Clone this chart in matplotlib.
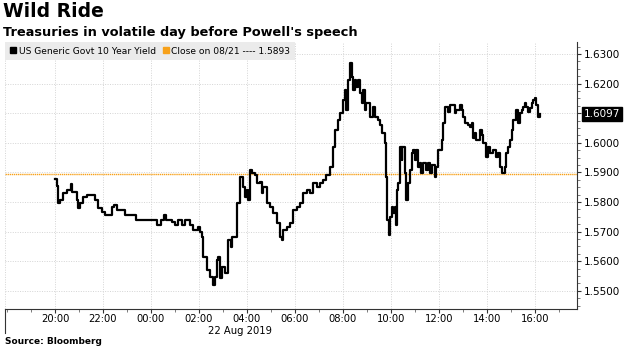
import numpy as np
import pandas as pd
import matplotlib
matplotlib.use("Agg")
from matplotlib import pyplot as plt
import matplotlib.dates as mdates
from matplotlib.lines import Line2D
from matplotlib.ticker import MultipleLocator, FormatStrFormatter
import matplotlib.transforms as mtransforms

# 10y yield (times are New York, 21 -> 22 Aug 2019)
times = ["20:00", "20:05", "20:08", "20:12", "20:21", "20:29", "20:39", "20:43", "20:54", "20:58",
         "21:02", "21:11", "21:19", "21:32", "21:40", "21:47", "21:57", "22:05", "22:22", "22:28",
         "22:34", "22:55", "23:22", "23:45", "00:14", "00:16", "00:24", "00:32", "00:37", "00:52",
         "01:00", "01:08", "01:17", "01:25", "01:37", "01:46", "01:58", "02:02", "02:07", "02:11",
         "02:19", "02:27", "02:34", "02:40", "02:44", "02:48", "02:52", "02:57", "03:05", "03:13",
         "03:19", "03:22", "03:34", "03:42", "03:51", "03:55", "03:59", "04:03", "04:07", "04:12",
         "04:20", "04:24", "04:32", "04:37", "04:41", "04:49", "04:57", "05:06", "05:14", "05:22",
         "05:27", "05:31", "05:39", "05:47", "05:56", "06:04", "06:12", "06:21", "06:29", "06:37",
         "06:46", "06:54", "07:02", "07:11", "07:19", "07:27", "07:36", "07:40", "07:48", "07:52",
         "08:01", "08:05", "08:09", "08:13", "08:17", "08:22", "08:26", "08:30", "08:34", "08:38",
         "08:42", "08:47", "08:51", "08:55", "08:59", "09:07", "09:16", "09:20", "09:28", "09:32",
         "09:37", "09:45", "09:47", "09:51", "09:55", "09:57", "10:02", "10:06", "10:10", "10:12",
         "10:16", "10:18", "10:22", "10:27", "10:29", "10:35", "10:39", "10:43", "10:47", "10:52",
         "10:56", "11:00", "11:04", "11:08", "11:12", "11:16", "11:21", "11:29", "11:33", "11:37",
         "11:42", "11:50", "11:54", "11:58", "12:07", "12:11", "12:15", "12:23", "12:27", "12:36",
         "12:40", "12:44", "12:52", "12:57", "13:01", "13:05", "13:13", "13:17", "13:22", "13:26",
         "13:30", "13:34", "13:42", "13:47", "13:51", "13:59", "14:03", "14:07", "14:16", "14:24",
         "14:28", "14:32", "14:37", "14:45", "14:49", "14:53", "14:57", "15:02", "15:06", "15:12",
         "15:18", "15:22", "15:27", "15:31", "15:35", "15:39", "15:43", "15:47", "15:52", "15:56",
         "16:00", "16:04", "16:08", "16:12"]
yields = [1.5878, 1.5855, 1.5797, 1.5807, 1.5831, 1.5841, 1.5861, 1.5834, 1.5807, 1.5780,
          1.5797, 1.5818, 1.5824, 1.5824, 1.5807, 1.5780, 1.5767, 1.5757, 1.5784, 1.5791,
          1.5774, 1.5757, 1.5740, 1.5740, 1.5740, 1.5723, 1.5740, 1.5757, 1.5740, 1.5733,
          1.5723, 1.5740, 1.5723, 1.5740, 1.5723, 1.5706, 1.5716, 1.5699, 1.5682, 1.5615,
          1.5571, 1.5547, 1.5520, 1.5547, 1.5605, 1.5615, 1.5544, 1.5581, 1.5561, 1.5672,
          1.5649, 1.5682, 1.5797, 1.5885, 1.5851, 1.5818, 1.5841, 1.5807, 1.5909, 1.5899,
          1.5892, 1.5865, 1.5868, 1.5831, 1.5851, 1.5797, 1.5784, 1.5764, 1.5730, 1.5682,
          1.5672, 1.5706, 1.5716, 1.5730, 1.5774, 1.5784, 1.5797, 1.5831, 1.5841, 1.5831,
          1.5865, 1.5851, 1.5865, 1.5875, 1.5892, 1.5919, 1.5986, 1.6044, 1.6078, 1.6101,
          1.6145, 1.6179, 1.6111, 1.6213, 1.6270, 1.6223, 1.6179, 1.6213, 1.6189, 1.6213,
          1.6169, 1.6135, 1.6179, 1.6111, 1.6135, 1.6088, 1.6122, 1.6088, 1.6078, 1.6061,
          1.6034, 1.6000, 1.5885, 1.5740, 1.5689, 1.5750, 1.5784, 1.5764, 1.5784, 1.5723,
          1.5841, 1.5865, 1.5986, 1.5943, 1.5986, 1.5899, 1.5807, 1.5865, 1.5909, 1.5966,
          1.5976, 1.5943, 1.5976, 1.5919, 1.5932, 1.5899, 1.5932, 1.5909, 1.5932, 1.5899,
          1.5926, 1.5885, 1.5919, 1.5976, 1.6010, 1.6068, 1.6122, 1.6105, 1.6128, 1.6128,
          1.6101, 1.6111, 1.6128, 1.6111, 1.6088, 1.6068, 1.6061, 1.6054, 1.6068, 1.6017,
          1.6034, 1.6010, 1.6044, 1.6027, 1.6000, 1.5953, 1.5986, 1.5966, 1.5976, 1.5953,
          1.5966, 1.5919, 1.5899, 1.5919, 1.5966, 1.5986, 1.6010, 1.6044, 1.6078, 1.6111,
          1.6068, 1.6101, 1.6111, 1.6122, 1.6135, 1.6122, 1.6105, 1.6118, 1.6135, 1.6145,
          1.6152, 1.6128, 1.6088, 1.6097]
prev_close = 1.5893
last_value = 1.6097

title = "Wild Ride"
subtitle = "Treasuries in volatile day before Powell's speech"
series_label = "US Generic Govt 10 Year Yield"
close_label = "Close on 08/21 ---- 1.5893"
date_label = "22 Aug 2019"
source = "Source: Bloomberg"

# times from 18:00 on belong to the 21st
stamps = [pd.Timestamp(("2019-08-21 " if int(t[:2]) >= 18 else "2019-08-22 ") + t) for t in times]

fig = plt.figure(figsize=(6.29, 3.51), dpi=100)
ax = fig.add_axes([0.008, 0.12, 0.909, 0.76])

ax.plot(stamps, yields, color="black", lw=1.6, drawstyle="steps-post", zorder=3)
ax.axhline(prev_close, color="#f7a11a", lw=1.0, ls=(0, (1, 0.5)), zorder=2)

ax.set_xlim(pd.Timestamp("2019-08-21 17:55"), pd.Timestamp("2019-08-22 17:45"))
ax.set_ylim(1.5439, 1.634)

ax.xaxis.set_major_locator(mdates.HourLocator(byhour=[20, 22, 0, 2, 4, 6, 8, 10, 12, 14, 16]))
ax.xaxis.set_minor_locator(mdates.HourLocator())
ax.xaxis.set_major_formatter(mdates.DateFormatter("%H:%M"))
ax.yaxis.tick_right()
ax.yaxis.set_major_locator(MultipleLocator(0.01))
ax.yaxis.set_minor_locator(MultipleLocator(0.0025))
ax.yaxis.set_major_formatter(FormatStrFormatter("%.4f"))

ax.tick_params(axis="both", which="major", labelsize=7.5, length=3, width=0.8, color="#333333")
ax.tick_params(axis="both", which="minor", length=2, width=0.6, color="#666666")
ax.tick_params(axis="x", labelsize=7.2, pad=1)
ax.tick_params(axis="y", pad=2)

for s in ["top", "left"]:
    ax.spines[s].set_visible(False)
ax.spines["bottom"].set_color("#333333")
ax.spines["right"].set_color("#333333")
ax.grid(True, which="major", color="#d4d4d4", lw=0.7, ls=(0, (1, 1.5)))
ax.axvline(ax.get_xlim()[0], color="#d4d4d4", lw=0.7, ls=(0, (1, 1.5)))

# separator line under the left edge of the time axis
ax.plot([0, 0], [0, -0.09], transform=ax.transAxes, color="#333333", lw=0.8, clip_on=False)

ax.text(0.411, -0.083, date_label, transform=ax.transAxes, ha="center", va="center", fontsize=7.2)

# last value tag
trans = mtransforms.blended_transform_factory(ax.transAxes, ax.transData)
ax.text(1.012, last_value, f"{last_value:.4f}", transform=trans, ha="left", va="center",
        fontsize=7.5, color="white",
        bbox=dict(boxstyle="square,pad=0.2", fc="black", ec="black"))

handles = [Line2D([], [], ls="none", marker="s", ms=5, color="black"),
           Line2D([], [], ls="none", marker="s", ms=5, color="#f7a11a")]
leg = ax.legend(handles, [series_label, close_label], loc="upper left", bbox_to_anchor=(0, 1.0),
                ncol=2, fontsize=6.6, frameon=True, facecolor="#ebebeb", edgecolor="none",
                fancybox=False, handlelength=0.7, handletextpad=0.3, columnspacing=0.7,
                borderpad=0.5, borderaxespad=0)
leg.get_frame().set_alpha(1)

fig.text(0.005, 0.995, title, fontsize=13.5, fontweight="bold", va="top", ha="left")
fig.text(0.005, 0.925, subtitle, fontsize=9.3, fontweight="bold", va="top", ha="left")
fig.text(0.008, 0.028, source, fontsize=6.5, fontweight="bold", va="center", ha="left")

fig.savefig("out.png", dpi=100)
